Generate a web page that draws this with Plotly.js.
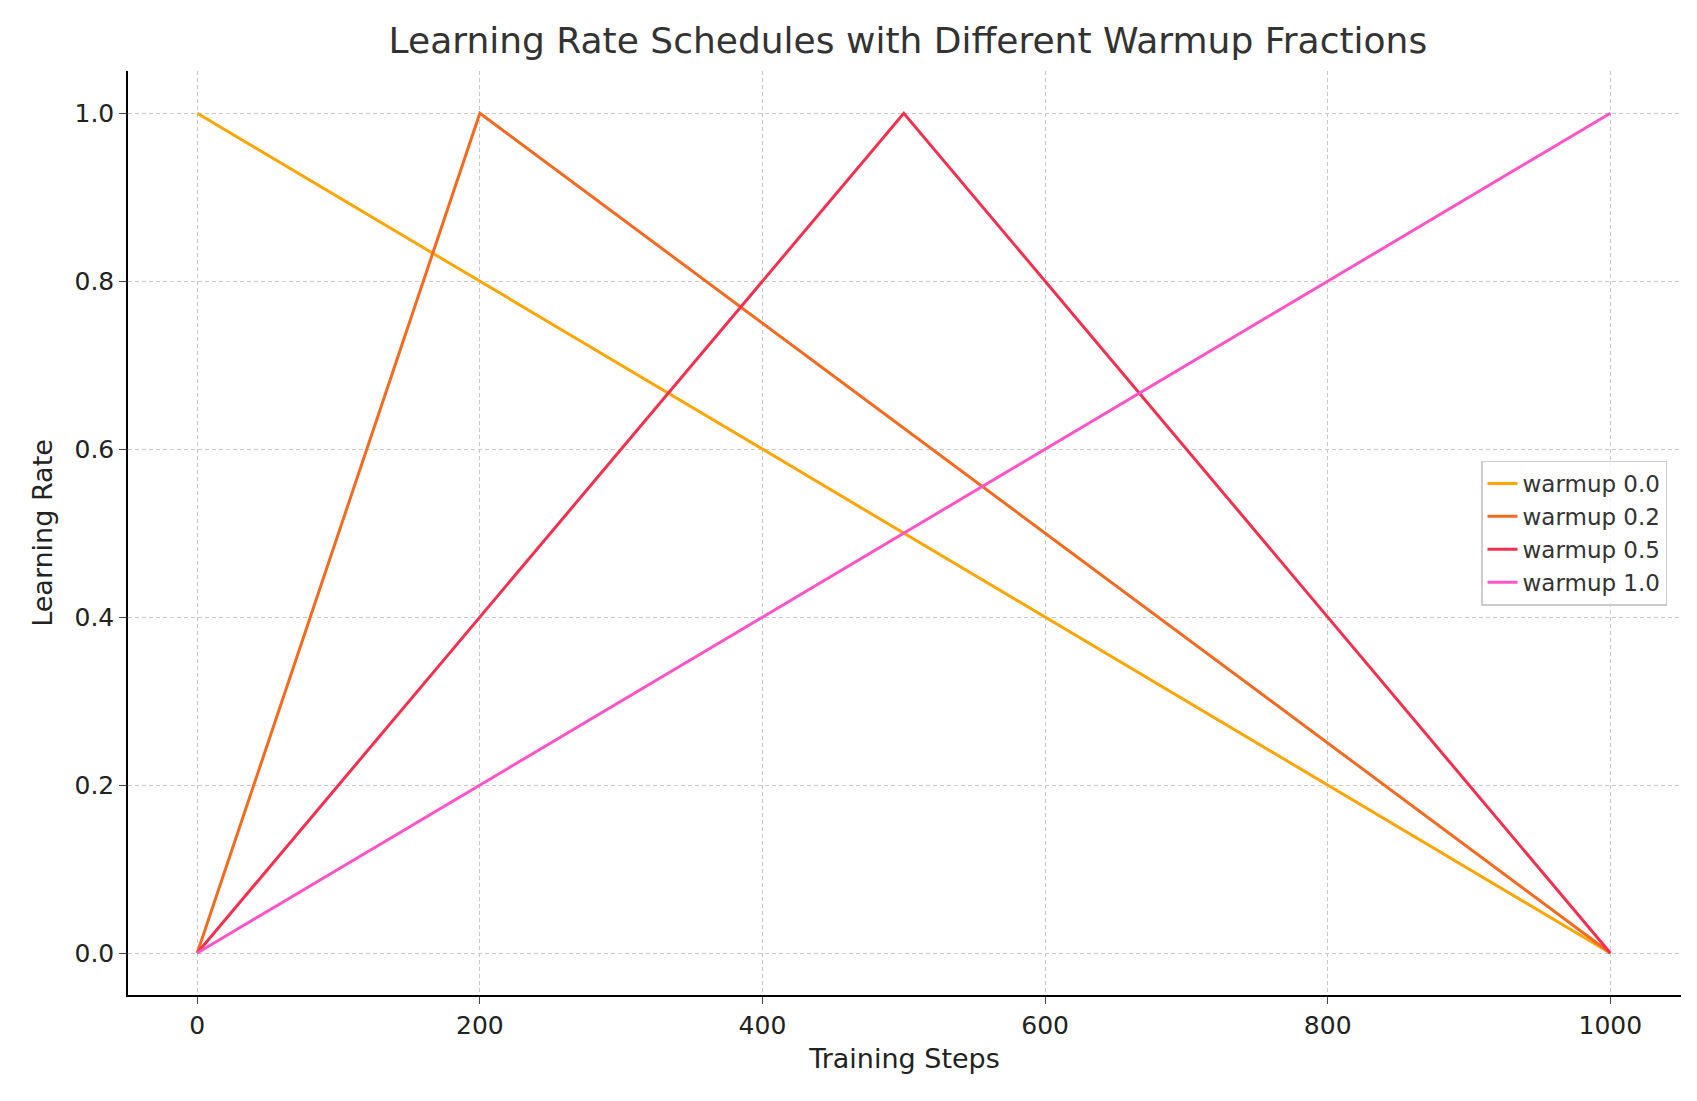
<!DOCTYPE html>
<html><head><meta charset="utf-8">
<script src="https://cdn.plot.ly/plotly-3.0.1.min.js"></script>
<style>body{margin:0;background:#fff}</style></head>
<body><div id="chart" style="width:1697px;height:1101px"></div>
<script>
const seriesNames = ["warmup 0.0","warmup 0.2","warmup 0.5","warmup 1.0"];
const colors = ["#FFA500","#F26B21","#F2304F","#FF55C8"];
const xs = [[0,1000],[0,200,1000],[0,500,1000],[0,1000]];
const ys = [[1,0],[0,1,0],[0,1,0],[0,1]];
const traces = seriesNames.map((n,i)=>({x:xs[i],y:ys[i],name:n,mode:"lines",type:"scatter",line:{color:colors[i],width:3}}));
const layout = {
  width:1697,height:1101,
  font:{family:"DejaVu Sans",color:"#222"},
  paper_bgcolor:"#fff",plot_bgcolor:"#fff",
  margin:{l:128,r:16,t:71,b:106},
  title:{text:"Learning Rate Schedules with Different Warmup Fractions",font:{size:36,color:"#333"},x:0.535,xanchor:"center",y:0.975},
  xaxis:{range:[-49,1050],tickvals:[0,200,400,600,800,1000],tickfont:{size:25},
    showgrid:true,gridcolor:"#c8c8c8",griddash:"4px,3px",zeroline:false,showline:true,linecolor:"#000",linewidth:1.5,
    ticks:"outside",ticklen:7,title:{text:"Training Steps",font:{size:27},standoff:10}},
  yaxis:{range:[-0.05,1.0503],tickvals:[0,0.2,0.4,0.6,0.8,1.0],ticktext:["0.0","0.2","0.4","0.6","0.8","1.0"],tickfont:{size:25},
    showgrid:true,gridcolor:"#c8c8c8",griddash:"4px,3px",zeroline:false,showline:true,linecolor:"#000",linewidth:1.5,
    ticks:"outside",ticklen:7,title:{text:"Learning Rate",font:{size:27},standoff:14}},
  legend:{x:0.991,xanchor:"right",y:0.5,yanchor:"middle",bgcolor:"rgba(255,255,255,0.8)",bordercolor:"#ccc",borderwidth:1.5,font:{size:23,color:"#333"},tracegroupgap:0},
  showlegend:true
};
Plotly.newPlot("chart",traces,layout,{displayModeBar:false});
</script></body></html>
